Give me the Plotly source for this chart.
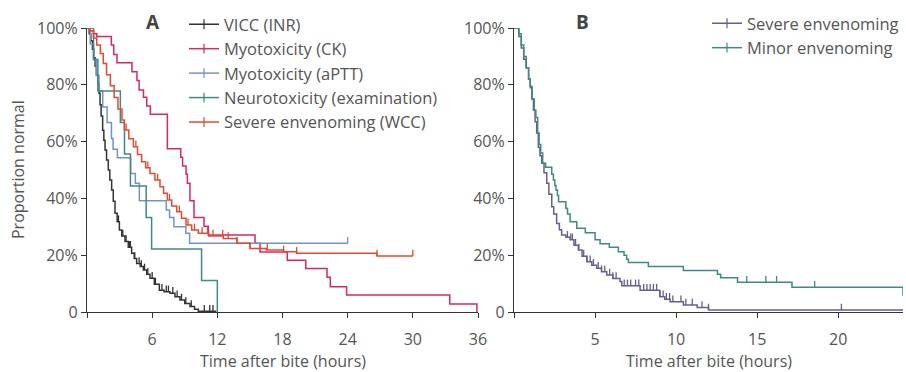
import plotly.graph_objects as go

# ---------------- Panel A data (time in hours, proportion in %) ----------------
vicc_t = [0, 0.2, 0.35, 0.5, 0.62, 0.75, 0.87, 1.0, 1.1, 1.2, 1.3, 1.44, 1.55, 1.66, 1.8, 1.96, 2.1,
          2.27, 2.42, 2.58, 2.78, 2.98, 3.2, 3.5, 3.8, 4.11, 4.35, 4.57, 4.9, 5.19, 5.5, 5.8, 6.2,
          6.66, 7.1, 7.64, 8.1, 8.56, 9.0, 9.48, 9.9, 10.25, 11.9]
vicc_p = [100, 98, 95.5, 92.5, 89.5, 86.5, 83.5, 80.5, 77, 73, 69, 64, 60.5, 57, 53.5, 50, 46.5,
          43, 39, 34.8, 31.8, 28.9, 26.8, 24.8, 22.8, 20.7, 18.8, 17.1, 16, 14.8, 13.3, 11.9, 9.8,
          7.7, 7.1, 6.6, 5.4, 4.2, 3.0, 1.9, 1.0, 0.3, 0.3]
vicc_cens = [2.9, 3.3, 3.6, 3.9, 4.0, 4.4, 4.8, 5.0, 5.3, 5.6, 6.0, 6.3, 6.9, 7.3, 7.5, 7.9, 8.3,
             8.7, 9.1, 9.6, 10.8, 11.3, 11.6]

ck_t = [0, 0.3, 0.6, 0.9, 2.24, 2.46, 2.76, 4.14, 4.6, 4.8, 5.2, 5.5, 5.83, 7.4, 8.63, 8.8, 9.12,
        9.24, 9.48, 9.85, 10.77, 11.17, 15.47, 15.93, 18.44, 20.14, 22.1, 22.4, 23.9, 33.4, 35.9]
ck_p = [100, 99, 98, 97, 94, 90.7, 87.8, 84.6, 81.5, 78.2, 75.6, 72.5, 69.6, 57.5, 54.5, 51.4, 48.5,
        45.3, 39.2, 33.3, 30.2, 27.1, 24.2, 21.1, 18.2, 15.3, 12.2, 8.9, 6.0, 2.8, 0]
ck_cens = []

aptt_t = [0, 0.3, 0.6, 0.85, 1.1, 1.45, 1.85, 2.25, 2.4, 2.8, 4.02, 4.45, 4.82, 7.3, 7.6, 8.0, 9.1,
          9.45, 24.0]
aptt_p = [100, 94.4, 88.9, 83.3, 77.8, 72.2, 66.7, 61.1, 57.3, 54.3, 48.8, 45.3, 39.2, 35.9, 33.3,
          30.0, 27.7, 24.2, 24.2]
aptt_cens = [24.0]

neuro_t = [0, 0.6, 1.0, 3.07, 3.45, 4.0, 5.45, 5.95, 10.55, 12.0]
neuro_p = [100, 88.9, 77.8, 66.7, 55.6, 44.4, 33.3, 22.2, 11.1, 0]
neuro_cens = []

wcc_t = [0, 0.3, 0.6, 0.9, 1.23, 1.5, 1.8, 2.15, 2.5, 2.85, 3.22, 3.44, 3.85, 4.27, 4.65, 5.03, 5.4,
         5.8, 6.25, 6.72, 7.05, 7.4, 7.8, 8.26, 8.7, 9.12, 9.64, 10.25, 11.2, 12.55, 13.8, 15.0,
         16.5, 18.1, 19.3, 26.7, 30.0]
wcc_p = [100, 99, 96.5, 94, 91, 87.5, 83.5, 79.7, 75.5, 71.5, 67.6, 64.1, 61, 58.2, 55.5, 52.9, 50.8,
         48.8, 46.5, 44.1, 41.8, 39.4, 37.3, 35.3, 33, 30.6, 28.9, 27.7, 26.8, 25.9, 24.2, 22.4,
         21.8, 21.2, 20.7, 19.7, 19.7]
wcc_cens = [3.6, 4.5, 5.6, 6.5, 7.6, 8.5, 9.3, 9.9, 10.6, 11.1, 11.6, 12.5, 13.0, 13.8, 15.0,
            16.6, 18.1, 19.3, 26.7, 30.0]

# ---------------- Panel B data ----------------
severe_t = [0, 0.3, 0.45, 0.6, 0.75, 0.9, 1.0, 1.1, 1.2, 1.3, 1.4, 1.5, 1.6, 1.71, 1.85, 2.02, 2.15,
            2.33, 2.45, 2.63, 2.8, 2.94, 3.2, 3.46, 3.7, 3.97, 4.2, 4.49, 4.8, 5.1, 5.4, 5.72, 6.1,
            6.54, 6.65, 7.78, 9.0, 9.3, 9.63, 10.45, 11.3, 12.0, 24.0]
severe_p = [100, 97, 93, 89, 86, 82, 79.5, 75, 71, 67, 63, 58, 55, 52.4, 49, 45.3, 41.5,
            37.1, 34.5, 31.2, 29, 27.1, 26.3, 25.4, 23.5, 21.8, 19.6, 17.7, 16.5, 15.4, 14.2, 13, 11.8,
            10.7, 9.2, 7.7, 5.4, 4.5, 3.6, 2.5, 1.6, 0.7, 0.7]
severe_cens = [3.3, 3.5, 3.6, 3.8, 4.0, 4.3, 4.5, 4.7, 4.9, 5.2, 5.4, 5.6, 5.9, 6.1, 6.3, 6.8, 7.0,
               7.2, 7.5, 7.7, 8.0, 8.2, 8.4, 8.6, 8.8, 9.0, 9.2, 9.4, 9.6, 9.8, 10.3, 10.6, 11.0,
               11.6, 12.0, 20.2]

minor_t = [0, 0.3, 0.45, 0.6, 0.75, 0.9, 1.0, 1.12, 1.25, 1.35, 1.46, 1.55, 1.65, 1.77, 1.95, 2.33,
           2.43, 2.52, 2.59, 2.68, 2.75, 3.2, 3.3, 3.46, 3.87, 4.4, 5.0, 5.31, 5.88, 6.44, 6.79,
           6.95, 7.06, 8.29, 10.45, 12.55, 12.75, 13.79, 17.15, 24.0]
minor_p = [100, 98, 94, 90, 86, 82, 79, 75, 71, 68.5, 63, 59, 56, 52.4, 51, 48.5,
           46.5, 44.5, 43, 41, 38.8, 36.5, 34.5, 31.8, 29.5, 27.9, 25.4, 24, 22.8, 21.2, 20,
           18.6, 17.4, 16, 14.6, 13.3, 12.1, 10.5, 8.7, 5.7]
minor_cens = [14.36, 15.54, 16.2, 18.55]

y_ticks = [0, 20, 40, 60, 80, 100]
y_labels = ["0", "20%", "40%", "60%", "80%", "100%"]
xa_ticks = [0, 6, 12, 18, 24, 30, 36]
xa_labels = ["", "6", "12", "18", "24", "30", "36"]
xb_ticks = [0, 5, 10, 15, 20]
xb_labels = ["", "5", "10", "15", "20"]

series_a = [
    ("VICC (INR)", vicc_t, vicc_p, vicc_cens, "#333333"),
    ("Myotoxicity (CK)", ck_t, ck_p, ck_cens, "#d92763"),
    ("Myotoxicity (aPTT)", aptt_t, aptt_p, aptt_cens, "#7393c8"),
    ("Neurotoxicity (examination)", neuro_t, neuro_p, neuro_cens, "#3f8a86"),
    ("Severe envenoming (WCC)", wcc_t, wcc_p, wcc_cens, "#e8492e"),
]
series_b = [
    ("Severe envenoming", severe_t, severe_p, severe_cens, "#655f8f"),
    ("Minor envenoming", minor_t, minor_p, minor_cens, "#3f8a82"),
]

TICK_H = 2.2  # censor tick height, in % units


def km_value(ts, ps, t):
    v = ps[0]
    for ti, pi in zip(ts, ps):
        if ti <= t:
            v = pi
        else:
            break
    return v


fig = go.Figure()


def add_series(series, xref, yref, legend):
    for name, ts, ps, cens, color in series:
        fig.add_trace(go.Scatter(
            x=ts, y=ps, mode="lines", line=dict(color=color, width=1.5, shape="hv"),
            xaxis=xref, yaxis=yref, showlegend=False, cliponaxis=False, hoverinfo="skip"))
        if cens:
            cx, cy = [], []
            for c in cens:
                v = km_value(ts, ps, c)
                cx += [c, c, None]
                cy += [v, v + TICK_H, None]
            fig.add_trace(go.Scatter(
                x=cx, y=cy, mode="lines", line=dict(color=color, width=1.3),
                xaxis=xref, yaxis=yref, showlegend=False, cliponaxis=False, hoverinfo="skip"))
        fig.add_trace(go.Scatter(
            x=[None], y=[None], mode="lines+markers", name=name,
            line=dict(color=color, width=1.5),
            marker=dict(symbol="line-ns", size=7, line=dict(color=color, width=1.2)),
            xaxis=xref, yaxis=yref, legend=legend))


add_series(series_a, "x", "y", "legend")
add_series(series_b, "x2", "y2", "legend2")

W, H = 906, 372
TXT = "#555555"
axis_common = dict(showline=True, linecolor="#333333", linewidth=1.2, ticks="outside",
                   ticklen=5, tickwidth=1.2, tickcolor="#333333", showgrid=False,
                   zeroline=False, automargin=False,
                   tickfont=dict(size=16, color=TXT))


def ann(text, px, py, size=16, **kw):
    return dict(text=text, x=px / W, y=1 - py / H, xref="paper", yref="paper",
                xanchor="center", yanchor="middle", showarrow=False,
                font=dict(size=size, color=kw.pop("color", TXT), weight=kw.pop("weight", 400)),
                **kw)


fig.update_layout(
    width=W, height=H,
    margin=dict(l=0, r=0, t=0, b=0),
    paper_bgcolor="white", plot_bgcolor="white",
    font=dict(family="Open Sans", size=16, color=TXT),
    xaxis=dict(domain=[87 / W, 478 / W], range=[0, 36], tickvals=xa_ticks, ticktext=xa_labels,
               anchor="y", ticklabelstandoff=8, **axis_common),
    yaxis=dict(domain=[60 / H, 344 / H], range=[0, 100], tickvals=y_ticks, ticktext=y_labels,
               anchor="x", **axis_common),
    xaxis2=dict(domain=[514 / W, 903 / W], range=[0, 24], tickvals=xb_ticks, ticktext=xb_labels,
                anchor="y2", ticklabelstandoff=8, **axis_common),
    yaxis2=dict(domain=[60 / H, 344 / H], range=[0, 100], tickvals=y_ticks, ticktext=y_labels,
                anchor="x2", **axis_common),
    legend=dict(x=184 / W, y=1 - 7 / H, xanchor="left", yanchor="top",
                bgcolor="rgba(0,0,0,0)", font=dict(size=16.5, color=TXT)),
    legend2=dict(x=707 / W, y=1 - 6 / H, xanchor="left", yanchor="top",
                 bgcolor="rgba(0,0,0,0)", font=dict(size=16.5, color=TXT)),
    annotations=[
        ann("A", 153, 22, size=19, color="#444444", weight=700),
        ann("B", 582, 22, size=19, color="#444444", weight=700),
        ann("Proportion normal", 18, 170, textangle=-90),
        ann("Time after bite (hours)", 282.5, 361),
        ann("Time after bite (hours)", 708.5, 361),
    ],
)

fig.write_html("out.html", config={"displayModeBar": False},
               post_script="document.body.style.margin='0px';")
